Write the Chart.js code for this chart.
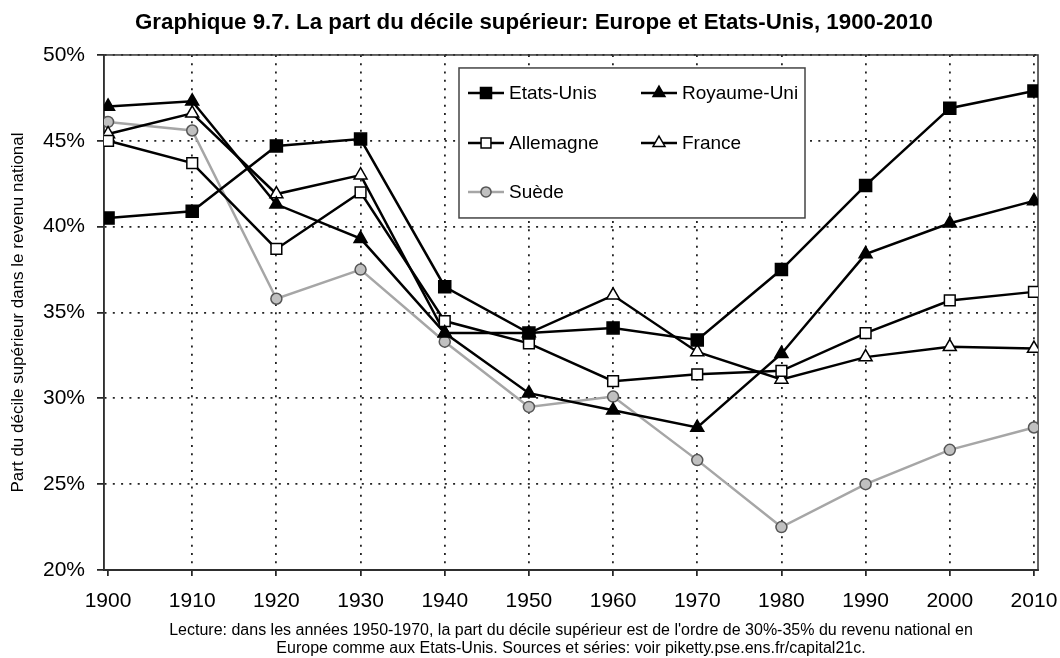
<!DOCTYPE html>
<html><head><meta charset="utf-8">
<script src="https://cdn.jsdelivr.net/npm/chart.js@4"></script>
<style>html,body{margin:0;padding:0;background:#fff}#wrap{width:1060px;height:658px}</style>
</head><body><div id="wrap"><canvas id="c" width="1060" height="658"></canvas></div>
<script>
const years = [1900,1910,1920,1930,1940,1950,1960,1970,1980,1990,2000,2010];
const etatsUnis = [40.5,40.9,44.7,45.1,36.5,33.8,34.1,33.4,37.5,42.4,46.9,47.9];
const royaumeUni = [47.0,47.3,41.3,39.3,33.8,30.3,29.3,28.3,32.6,38.4,40.2,41.5];
const allemagne = [45.0,43.7,38.7,42.0,34.5,33.2,31.0,31.4,31.6,33.8,35.7,36.2];
const france = [45.4,46.6,41.9,43.0,33.8,33.8,36.0,32.7,31.1,32.4,33.0,32.9];
const suede = [46.1,45.6,35.8,37.5,33.3,29.5,30.1,26.4,22.5,25.0,27.0,28.3];
const yTicks = [20,25,30,35,40,45,50];
const seriesNames = ['Etats-Unis','Royaume-Uni','Allemagne','France','Suède'];
const titleText = 'Graphique 9.7. La part du décile supérieur: Europe et Etats-Unis, 1900-2010';
const yTitle = 'Part du décile supérieur dans le revenu national';
const footnote = ["Lecture: dans les années 1950-1970, la part du décile supérieur est de l'ordre de 30%-35% du revenu national en",
                  "Europe comme aux Etats-Unis. Sources et séries: voir piketty.pse.ens.fr/capital21c."];

const FAM = '"Liberation Sans", Arial, Helvetica, sans-serif';
const pts = arr => arr.map((v, i) => ({x: years[i], y: v}));

function mk(label, data, style, r, fill, stroke, lineColor) {
  return {label, data: pts(data), borderColor: lineColor, borderWidth: 2.5, tension: 0,
    pointStyle: style, pointRadius: r, pointBackgroundColor: fill, pointBorderColor: stroke,
    pointBorderWidth: 1.5, fill: false};
}

const datasets = [
  mk(seriesNames[0], etatsUnis, 'rect', 8.5, '#000', '#000', '#000'),
  mk(seriesNames[1], royaumeUni, 'triangle', 7.5, '#000', '#000', '#000'),
  mk(seriesNames[2], allemagne, 'rect', 7.6, '#fff', '#000', '#000'),
  mk(seriesNames[3], france, 'triangle', 7.5, '#fff', '#000', '#000'),
  mk(seriesNames[4], suede, 'circle', 5.5, '#c0c0c0', '#555', '#a6a6a6')
];

function drawMarker(ctx, style, x, y, r, fill, stroke, bw) {
  ctx.save();
  ctx.fillStyle = fill; ctx.strokeStyle = stroke; ctx.lineWidth = bw; ctx.setLineDash([]);
  if (Chart.helpers && Chart.helpers.drawPoint) {
    Chart.helpers.drawPoint(ctx, {pointStyle: style, rotation: 0, radius: r, borderWidth: bw}, x, y);
  } else {
    ctx.beginPath();
    if (style === 'rect') { const s = Math.SQRT1_2 * r; ctx.rect(x - s, y - s, 2 * s, 2 * s); }
    else if (style === 'triangle') {
      let a = 0; ctx.moveTo(x + Math.sin(a) * r, y - Math.cos(a) * r);
      a += 2 * Math.PI / 3; ctx.lineTo(x + Math.sin(a) * r, y - Math.cos(a) * r);
      a += 2 * Math.PI / 3; ctx.lineTo(x + Math.sin(a) * r, y - Math.cos(a) * r); ctx.closePath();
    } else { ctx.arc(x, y, r, 0, Math.PI * 2); }
    ctx.fill(); ctx.stroke();
  }
  ctx.restore();
}

const frame = {
  id: 'frame',
  beforeDatasetsDraw(chart) {
    const {ctx, chartArea: a} = chart;
    ctx.save();
    ctx.strokeStyle = '#333'; ctx.lineWidth = 1.5; ctx.setLineDash([]);
    ctx.strokeRect(a.left, a.top, a.right - a.left, a.bottom - a.top);
    ctx.restore();
  }
};

const insideLegend = {
  id: 'insideLegend',
  afterDatasetsDraw(chart, args, o) {
    const {ctx, chartArea: a} = chart;
    ctx.save();
    const bx = a.left + o.box.x, by = a.top + o.box.y;
    ctx.fillStyle = '#fff';
    ctx.fillRect(bx, by, o.box.w, o.box.h);
    ctx.strokeStyle = '#444'; ctx.lineWidth = 1.5; ctx.setLineDash([]);
    ctx.strokeRect(bx, by, o.box.w, o.box.h);
    chart.data.datasets.forEach((ds, i) => {
      const col = i % 2, row = Math.floor(i / 2);
      const x0 = a.left + o.cols[col], y = a.top + o.rows[row];
      ctx.strokeStyle = ds.borderColor; ctx.lineWidth = ds.borderWidth;
      ctx.beginPath(); ctx.moveTo(x0, y); ctx.lineTo(x0 + o.lineLen, y); ctx.stroke();
      drawMarker(ctx, ds.pointStyle, x0 + o.lineLen / 2, y, ds.pointRadius * 0.92,
        ds.pointBackgroundColor, ds.pointBorderColor, ds.pointBorderWidth);
      ctx.fillStyle = '#000'; ctx.font = o.font; ctx.textBaseline = 'middle'; ctx.textAlign = 'left';
      ctx.fillText(ds.label, x0 + o.lineLen + o.gap, y + 1);
    });
    ctx.restore();
  }
};

new Chart(document.getElementById('c'), {
  type: 'line',
  data: {datasets},
  plugins: [frame, insideLegend],
  options: {
    responsive: false, animation: false,
    layout: {padding: {left: 30, right: 22, top: 0, bottom: 0}},
    plugins: {
      legend: {display: false},
      tooltip: {enabled: false},
      title: {display: true, text: titleText, color: '#000',
        font: {family: FAM, size: 22.3, weight: 'bold', lineHeight: 1.2},
        padding: {top: 9.5, bottom: 18.7}},
      insideLegend: {box: {x: 355, y: 13, w: 346, h: 150}, cols: [364, 537], rows: [38, 88, 137],
        lineLen: 36, gap: 5, font: '19px ' + FAM}
    },
    scales: {
      x: {
        type: 'linear', min: 1899.52, max: 2010.48,
        afterBuildTicks: s => { s.ticks = years.map(v => ({value: v})); },
        afterFit: s => { s.height = 88; s.paddingLeft = 0; s.paddingRight = 0; },
        ticks: {autoSkip: false, maxRotation: 0, minRotation: 0, padding: 13, color: '#000',
          font: {family: FAM, size: 21}, callback: v => String(v)},
        grid: {color: c => (c.index === 0 ? 'rgba(0,0,0,0)' : '#222'), lineWidth: 1.8,
          tickLength: 6, tickColor: '#000', tickWidth: 1.5, tickBorderDash: []},
        border: {display: true, color: '#222', width: 2, dash: [2, 6.3]},
        title: {display: true, text: footnote, color: '#000',
          font: {family: FAM, size: 16, lineHeight: 18 / 16}, padding: {top: 0, bottom: 0}}
      },
      y: {
        min: 20, max: 50,
        afterBuildTicks: s => { s.ticks = yTicks.map(v => ({value: v})); },
        afterFit: s => { s.width = 74; },
        ticks: {padding: 12, color: '#000', font: {family: FAM, size: 21}, callback: v => v + '%'},
        grid: {color: '#222', lineWidth: 1.8, tickLength: 7, tickColor: '#000', tickWidth: 1.5, tickBorderDash: []},
        border: {display: true, color: '#222', width: 1.5, dash: [2, 6.3]},
        title: {display: true, text: yTitle, color: '#000', font: {family: FAM, size: 17},
          padding: {top: -21.7, bottom: 0}}
      }
    }
  }
});
</script>
</body></html>
